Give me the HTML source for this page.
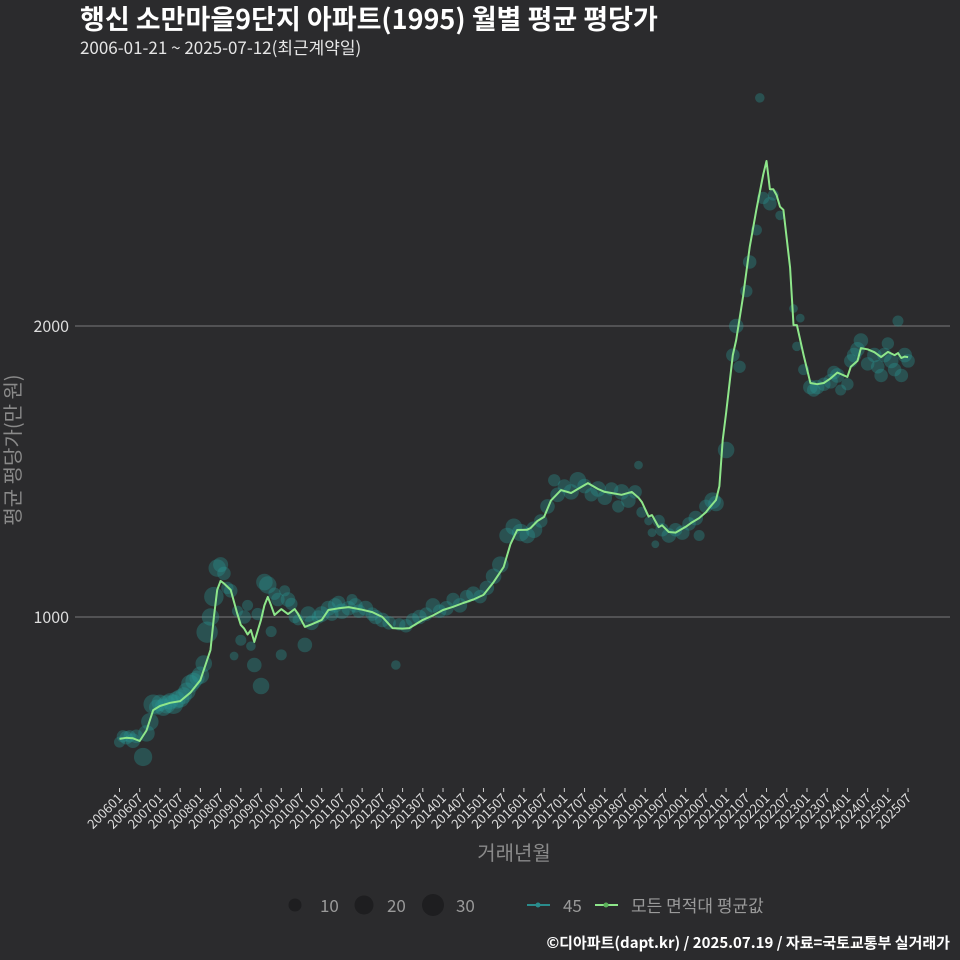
<!DOCTYPE html>
<html><head><meta charset="utf-8">
<style>
html,body{margin:0;padding:0;background:#2b2b2d;}
svg{display:block;font-family:"Noto Sans CJK KR","Liberation Sans",sans-serif;}
</style></head>
<body>
<svg id="chart" width="960" height="960" viewBox="0 0 960 960">
<rect x="0" y="0" width="960" height="960" fill="#2b2b2d"/>
<text x="80" y="29" fill="#ffffff" font-size="27" font-weight="bold">행신 소만마을9단지 아파트(1995) 월별 평균 평당가</text>
<text x="80" y="54" fill="#e6e6e6" font-size="17">2006-01-21 ~ 2025-07-12(최근계약일)</text>
<g id="grid"></g>
<g id="yticks"></g>
<g id="xticks"></g>
<g id="points"></g>
<g id="line"></g>
<text transform="translate(20,450) rotate(-90)" text-anchor="middle" fill="#8a8a8a" font-size="20">평균 평당가(만 원)</text>
<text x="514" y="860" text-anchor="middle" fill="#8a8a8a" font-size="20">거래년월</text>
<g>
<circle cx="295" cy="905" r="6.5" fill="#1e1e20"/>
<text x="320" y="912" fill="#9a9a9a" font-size="17">10</text>
<circle cx="364" cy="905" r="9.5" fill="#1e1e20"/>
<text x="387" y="912" fill="#9a9a9a" font-size="17">20</text>
<circle cx="433" cy="905" r="11" fill="#1e1e20"/>
<text x="456" y="912" fill="#9a9a9a" font-size="17">30</text>
<line x1="527" y1="905" x2="550" y2="905" stroke="#2a8c8c" stroke-width="2"/>
<circle cx="538" cy="905" r="2.5" fill="#2a8c8c"/>
<text x="563" y="912" fill="#9a9a9a" font-size="17">45</text>
<line x1="595" y1="905" x2="618" y2="905" stroke="#8ee68a" stroke-width="2"/>
<circle cx="606" cy="905" r="2.5" fill="#5bb15a"/>
<text x="631" y="912" fill="#9a9a9a" font-size="17">모든 면적대 평균값</text>
</g>
<text x="950" y="948" text-anchor="end" fill="#ffffff" font-size="15" font-weight="bold">©디아파트(dapt.kr) / 2025.07.19 / 자료=국토교통부 실거래가</text>
</svg>
<script>
const yTicks = [1000, 2000];
const lineMonths = [0,2,4,6,8,10,12,15,18,21,24,27,28,29,30,31,33,35,36,37,38,39,40,42,43,44,45,46,48,50,52,53,55,57,60,62,65,68,72,75,78,81,84,86,90,93,96,99,102,105,108,111,114,116,118,121,122,124,126,128,131,134,136,139,142,144,146,149,152,154,155,157,158,160,161,163,165,168,170,172,174,175,177,178,179,180,182,183,185,187,189,191,192,193,194,195,196,197,199,200,201,203,205,207,209,211,213,214,216,217,219,220,222,224,226,228,230,231,232,233,234];
const lineValues = [581,585,583,574,610,680,694,705,711,740,783,887,1000,1093,1124,1115,1093,1010,973,960,940,955,914,990,1040,1069,1040,1007,1027,1010,1027,1010,966,975,990,1024,1030,1034,1025,1017,1000,962,960,962,990,1005,1024,1035,1048,1060,1076,1120,1172,1250,1299,1300,1306,1330,1344,1400,1436,1426,1440,1460,1440,1430,1426,1420,1430,1410,1395,1345,1350,1309,1315,1292,1290,1310,1326,1340,1360,1375,1402,1450,1608,1701,1900,1952,2100,2271,2400,2520,2567,2470,2470,2450,2410,2399,2200,2003,2003,1900,1804,1800,1804,1820,1840,1835,1825,1860,1880,1924,1920,1910,1893,1911,1900,1907,1890,1895,1893];
const ptMonths = [0,1,2,3,4,5,7,8,9,10,11,12,13,14,15,16,17,18,19,20,21,22,23,24,25,26,27,28,29,30,31,32,33,34,35,36,37,38,39,40,41,42,43,44,45,46,47,48,49,50,51,52,53,55,56,57,59,60,62,63,64,65,66,68,69,70,71,73,75,76,78,80,82,83,85,87,89,91,93,95,97,99,101,103,105,107,109,111,113,115,117,119,121,123,125,127,129,130,132,134,136,138,140,142,144,146,148,149,151,153,154,155,157,158,159,160,161,163,165,167,169,171,172,174,176,177,180,182,183,184,186,187,189,190,191,193,194,196,200,201,202,203,205,206,207,209,211,212,213,214,216,217,218,219,220,222,224,225,226,227,228,229,230,231,232,233,234];
const ptValues = [570,590,585,590,575,590,519,600,640,700,690,705,690,700,710,700,715,720,730,745,770,780,790,800,840,948,1000,1070,1168,1180,1150,1100,1090,866,1020,920,1000,1040,900,835,1010,763,1120,1110,950,1080,1060,870,1090,1060,1045,1000,990,904,1010,980,1000,1010,1030,1010,1040,1050,1020,1030,1060,1040,1020,1030,1010,1000,990,980,835,975,970,990,1000,1010,1040,1020,1030,1060,1040,1070,1080,1070,1100,1140,1180,1280,1310,1290,1280,1300,1330,1380,1470,1420,1450,1430,1470,1450,1420,1440,1410,1440,1380,1430,1400,1430,1522,1360,1330,1290,1250,1330,1300,1280,1300,1290,1320,1340,1280,1380,1400,1390,1574,1900,2000,1860,2120,2220,2330,2784,2440,2420,2450,2380,2060,1930,2027,1850,1790,1780,1790,1800,1810,1840,1830,1780,1800,1880,1900,1920,1950,1870,1900,1860,1830,1900,1940,1880,1850,2017,1830,1900,1880];
const ptCounts = [8,10,12,10,14,12,22,18,20,25,15,18,20,22,18,25,20,22,18,20,22,18,15,20,18,30,20,25,20,15,12,10,12,5,8,8,12,8,6,14,10,18,18,20,8,10,12,8,8,14,10,10,8,14,16,14,12,16,15,12,14,12,16,14,8,14,12,15,12,14,14,12,6,10,12,12,14,12,14,12,14,12,14,12,14,12,14,16,18,16,18,20,16,18,12,14,10,14,12,16,18,14,12,16,14,12,10,16,14,12,5,8,5,5,4,10,12,14,12,14,12,14,8,12,18,16,18,12,14,10,10,12,8,6,10,12,8,6,5,6,5,8,14,12,14,12,14,12,14,8,10,12,14,14,14,12,14,12,12,14,10,14,12,8,12,14,12];
const xLabels = [];
for (let y = 2006; y <= 2025; y++) { xLabels.push(y + '01'); xLabels.push(y + '07'); }

const NS = 'http://www.w3.org/2000/svg';
function xScale(m) { return 119.5 + m * 3.37; }
function yScale(v) { return 617 - (v - 1000) * 0.291; }
function rScale(n) { return 1.95 * Math.sqrt(n); }
function mk(tag, attrs, parent) {
  const el = document.createElementNS(NS, tag);
  for (const k in attrs) el.setAttribute(k, attrs[k]);
  parent.appendChild(el);
  return el;
}
const grid = document.getElementById('grid');
const yt = document.getElementById('yticks');
yTicks.forEach(v => {
  const l = mk('line', {x1: 75, x2: 950, y1: yScale(v), y2: yScale(v), stroke: '#7a7a7a', 'stroke-width': 1}, grid);
  
  
  const t = mk('text', {x: 69, y: yScale(v) + 6, 'text-anchor': 'end', fill: '#dddddd', 'font-size': 16}, yt);
  t.textContent = v;
  
  
});
const xt = document.getElementById('xticks');
xLabels.forEach((lab, i) => {
  const x = xScale(i * 6);
  const tk = mk('line', {x1: x, x2: x, y1: 788, y2: 792, stroke: '#cccccc', 'stroke-width': 1}, xt);
  
  
  const t = mk('text', {x: x + 4, y: 799, 'text-anchor': 'end', fill: '#dddddd', 'font-size': 13, transform: 'rotate(-45 ' + (x + 4) + ' 799)'}, xt);
  t.textContent = lab;
  
  
});
const pts = document.getElementById('points');
ptMonths.forEach((m, i) => {
  const c = mk('circle', {cx: xScale(m), cy: yScale(ptValues[i]), r: rScale(ptCounts[i]), fill: 'rgba(42,150,148,0.36)'}, pts);
  
  
});
const lg = document.getElementById('line');
const d = lineMonths.map((m, i) => (i ? 'L' : 'M') + xScale(m).toFixed(1) + ' ' + yScale(lineValues[i]).toFixed(1)).join(' ');
const p = mk('path', {d: d, fill: 'none', stroke: '#8ee68a', 'stroke-width': 2, 'stroke-linejoin': 'round'}, lg);


</script>
</body></html>
